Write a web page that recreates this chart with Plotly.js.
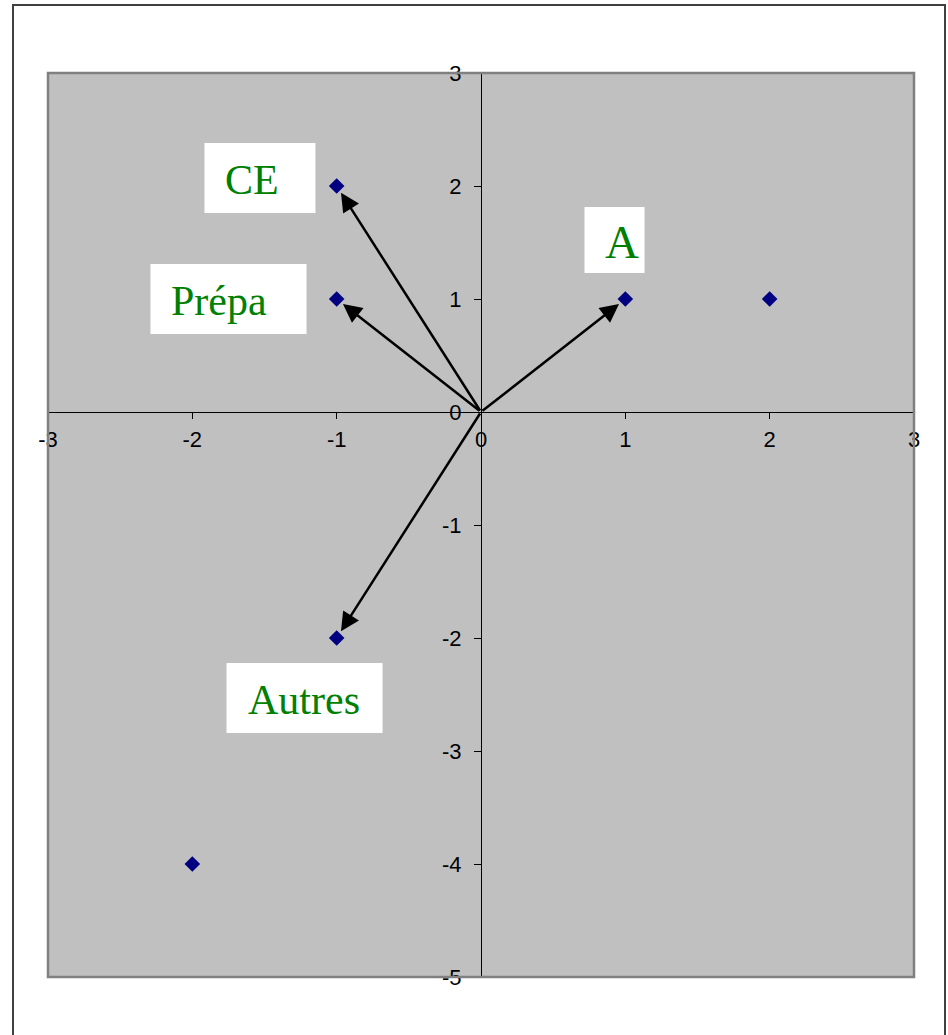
<!DOCTYPE html>
<html>
<head>
<meta charset="utf-8">
<script src="https://cdn.plot.ly/plotly-3.0.1.min.js"></script>
<style>
  html, body { margin: 0; padding: 0; background: #fff; }
  #chart { width: 948px; height: 1035px; }
</style>
</head>
<body>
<div id="chart"></div>
<script>
(function () {
  'use strict';

  /* points of the scatter */
  var ptX = [-1, -1, 1, 2, -1, -2];
  var ptY = [2, 1, 1, 1, -2, -4];

  /* arrows from the origin, with their labels */
  var arrowX = [-1, -1, 1, -1];
  var arrowY = [2, 1, 1, -2];
  var labelText = ['CE', 'Prépa', 'A', 'Autres'];

  var X_RANGE = [-3, 3];
  var Y_RANGE = [-5, 3];
  var xTicks = [-3, -2, -1, 0, 1, 2, 3];
  var yTicks = [-5, -4, -3, -2, -1, 0, 1, 2, 3];

  /* white label boxes, in data units: [x0, x1, y0, y1], and font size */
  var LABEL_BOX = [
    { x0: -1.916, x1: -1.147, y0: 1.761, y1: 2.381, size: 42 },
    { x0: -2.290, x1: -1.209, y0: 0.690, y1: 1.310, size: 42 },
    { x0: 0.717, x1: 1.133, y0: 1.230, y1: 1.814, size: 47 },
    { x0: -1.763, x1: -0.682, y0: -2.841, y1: -2.221, size: 42 }
  ];

  var M = { l: 48, r: 34, t: 73, b: 58 };
  var W = 948, H = 1035;
  var pw = W - M.l - M.r, ph = H - M.t - M.b;

  var ann = [];
  var shapes = [];
  arrowX.forEach(function (x, i) {
    ann.push({
      x: x, y: arrowY[i], xref: 'x', yref: 'y',
      ax: 0, ay: 0, axref: 'x', ayref: 'y',
      showarrow: true, arrowhead: 2, arrowsize: 1.5, arrowwidth: 2.5,
      arrowcolor: '#000000', standoff: 8, text: ''
    });
  });
  labelText.forEach(function (t, i) {
    var b = LABEL_BOX[i];
    shapes.push({
      type: 'rect', xref: 'x', yref: 'y', x0: b.x0, x1: b.x1, y0: b.y0, y1: b.y1,
      fillcolor: '#ffffff', line: { width: 0 }, layer: 'below'
    });
    ann.push({
      x: b.x0, y: (b.y0 + b.y1) / 2, xref: 'x', yref: 'y', text: t, showarrow: false,
      xanchor: 'left', yanchor: 'middle', xshift: 19, yshift: -2,
      font: { family: 'Liberation Serif, Times New Roman, serif', size: b.size, color: '#008000' }
    });
  });

  var axFont = { family: 'Liberation Sans, Arial, sans-serif', size: 22, color: '#000000' };

  shapes.push(
    { type: 'rect', xref: 'paper', yref: 'paper', x0: 0, x1: 1, y0: 0, y1: 1,
      line: { color: '#808080', width: 2.5 }, layer: 'above' },
    { type: 'rect', xref: 'paper', yref: 'paper',
      x0: (13 - M.l) / pw, x1: (945 - M.l) / pw,
      y0: -(1040 - M.t - ph) / ph, y1: 1 + (M.t - 5) / ph,
      line: { color: '#404040', width: 2 }, layer: 'below' }
  );

  var layout = {
    width: W, height: H,
    margin: M,
    font: axFont,
    paper_bgcolor: '#ffffff',
    plot_bgcolor: '#c0c0c0',
    showlegend: false,
    xaxis: {
      range: X_RANGE, tickvals: xTicks, ticktext: xTicks.map(String),
      showgrid: false, zeroline: false, showline: true, linecolor: '#000000', linewidth: 1,
      ticks: 'outside', ticklen: 6, tickcolor: '#000000', tickfont: axFont,
      ticklabelstandoff: 2,
      anchor: 'free', position: (0 - Y_RANGE[0]) / (Y_RANGE[1] - Y_RANGE[0]),
      fixedrange: true
    },
    yaxis: {
      range: Y_RANGE, tickvals: yTicks, ticktext: yTicks.map(String),
      showgrid: false, zeroline: false, showline: true, linecolor: '#000000', linewidth: 1,
      ticks: 'outside', ticklen: 7, tickcolor: '#000000', tickfont: axFont,
      ticklabelstandoff: 8,
      anchor: 'free', position: (0 - X_RANGE[0]) / (X_RANGE[1] - X_RANGE[0]),
      fixedrange: true
    },
    annotations: ann,
    shapes: shapes
  };

  Plotly.newPlot('chart', [{
    x: ptX, y: ptY, type: 'scatter', mode: 'markers',
    marker: { symbol: 'diamond', size: 12, color: '#000080' },
    hoverinfo: 'skip', cliponaxis: false
  }], layout, { displayModeBar: false, staticPlot: true });
})();
</script>
</body>
</html>
